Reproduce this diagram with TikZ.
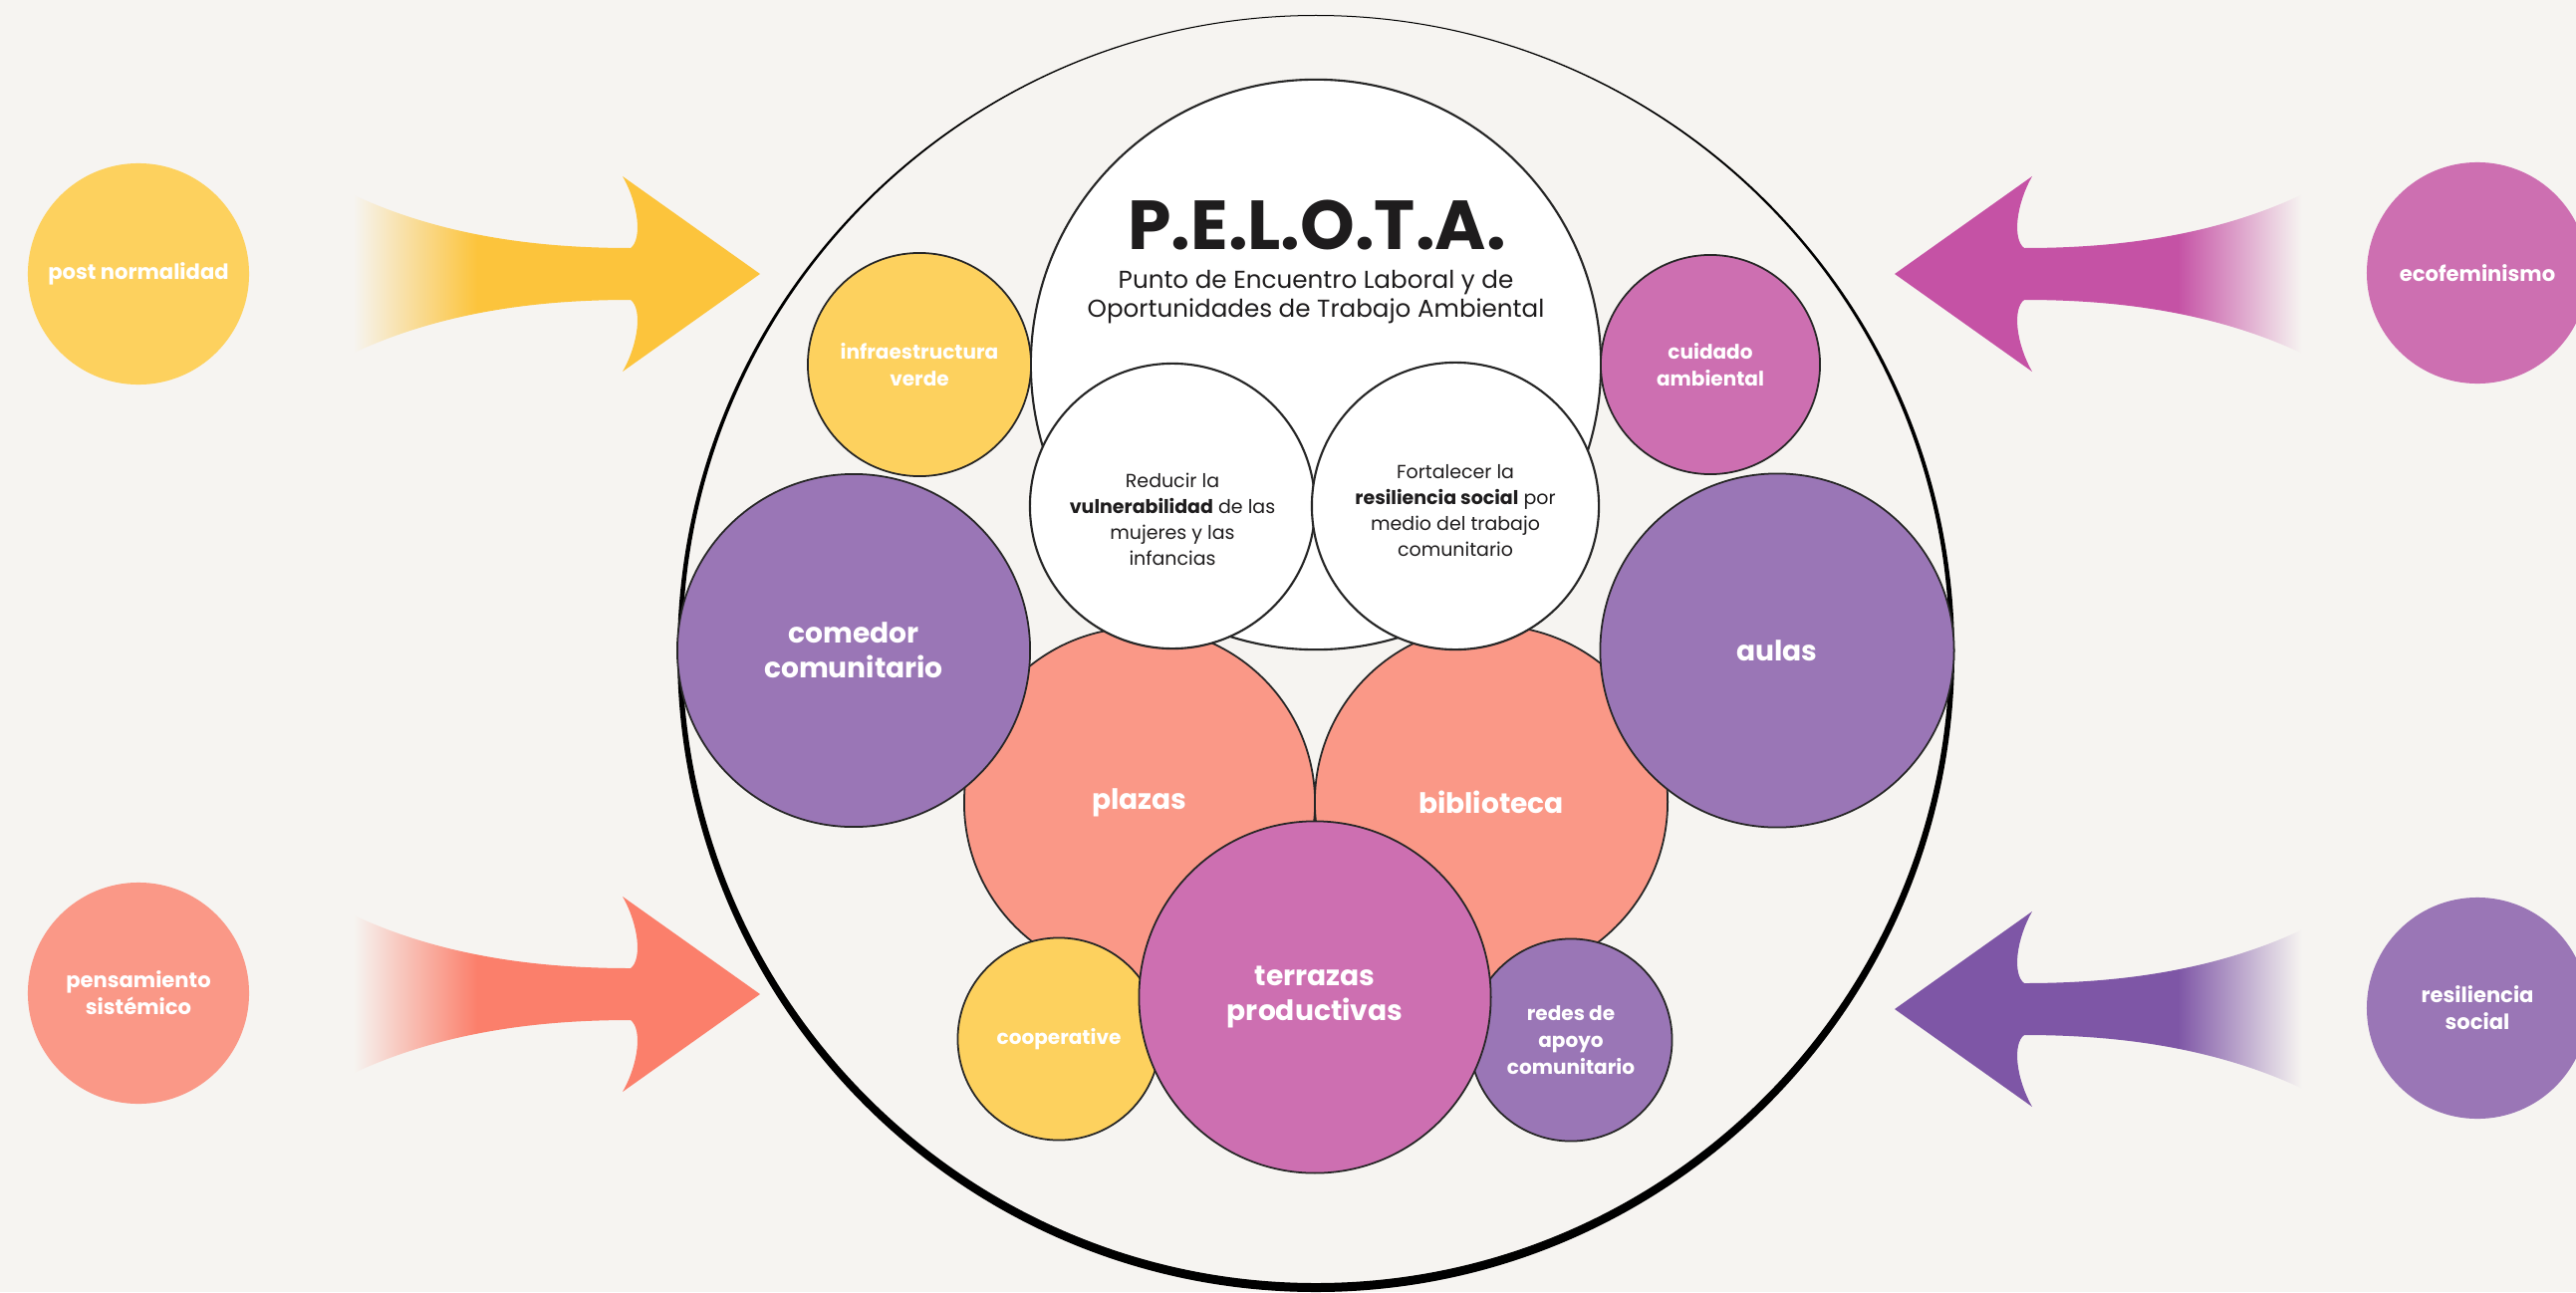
\documentclass[tikz,border=0pt]{standalone}
\usepackage{fontspec}
\setmainfont{Poppins}
\usepackage{tikz}
\usetikzlibrary{positioning}

\definecolor{paper}{HTML}{F6F4F1}
\definecolor{ink}{HTML}{1E1C1D}
\definecolor{sunY}{HTML}{FDD15E}
\definecolor{sunA}{HTML}{FCC43C}
\definecolor{coralC}{HTML}{FA9887}
\definecolor{coralA}{HTML}{FB7F6B}
\definecolor{pinkC}{HTML}{CD6FB1}
\definecolor{pinkA}{HTML}{C552A5}
\definecolor{lilaC}{HTML}{9A76B6}
\definecolor{lilaA}{HTML}{7E56A6}

% tail fades, one per arrow colour
\newcommand{\fadepair}[1]{%
  \pgfdeclarehorizontalshading{#1-east}{100bp}{color(0bp)=(paper); color(27.5bp)=(paper); color(42bp)=(#1); color(100bp)=(#1)}%
  \pgfdeclarehorizontalshading{#1-west}{100bp}{color(0bp)=(#1); color(58bp)=(#1); color(72.5bp)=(paper); color(100bp)=(paper)}}
\fadepair{sunA}
\fadepair{coralA}
\fadepair{pinkA}
\fadepair{lilaA}

% fat arrow: tip, direction, shading
\newcommand{\flowarrow}[3]{%
  \begin{scope}[shift={(#1)}, xscale=#2]
    \shade[shading=#3] (0,0) -- (-138,98) .. controls (-122,70) and (-118,35) .. (-130,26) .. controls (-170,26) and (-210,28.2) .. (-249.4,33.8) .. controls (-308.4,42.2) and (-366,58) .. (-420,85) -- (-430,88) -- (-430,-88) -- (-420,-85) .. controls (-366,-58) and (-308.4,-42.2) .. (-249.4,-33.8) .. controls (-210,-28.2) and (-170,-26) .. (-130,-26) .. controls (-118,-35) and (-122,-70) .. (-138,-98) -- cycle;
  \end{scope}}

\begin{document}
\begin{tikzpicture}[x=0.01cm, y=-0.01cm,
    bubble/.style={circle, draw=black!85, line width=0.5pt, inner sep=0pt, align=center, text=white, font=\bfseries\fontsize{8}{10}\selectfont},
    minor/.style={bubble, font=\bfseries\fontsize{5.7}{7.6}\selectfont},
    goal/.style={circle, draw=black!85, line width=0.6pt, fill=white, inner sep=0pt},
    goaltext/.style={align=center, text=ink, font=\fontsize{5.4}{7.4}\selectfont},
    idea/.style={circle, inner sep=0pt, align=center, text=white, minimum size=2.22cm, font=\bfseries\fontsize{6}{7.7}\selectfont}]
\fill[paper] (0,0) rectangle (2586,1297);
\useasboundingbox (0,0) rectangle (2586,1297);

% outer ideas
\node[idea, fill=sunY] (postnorm) at (139,275) {post normalidad};
\node[idea, fill=coralC] (sistemico) at (139,997) {pensamiento\\sistémico};
\node[idea, fill=pinkC] (ecofem) at (2487,274) {ecofeminismo};
\node[idea, fill=lilaC] (resil) at (2487,1012) {resiliencia\\social};

\coordinate (tipA) at (763,275);
\coordinate (tipB) at (763,998);
\coordinate (tipC) at (1902,275);
\coordinate (tipD) at (1902,1013);
\flowarrow{tipA}{1}{sunA-east}
\flowarrow{tipB}{1}{coralA-east}
\flowarrow{tipC}{-1}{pinkA-west}
\flowarrow{tipD}{-1}{lilaA-west}

% ring
\fill[black, even odd rule] (1321,656) circle[radius=641] (1321,652) circle[radius=636];

% inner bubbles
\node[goal, minimum size=5.72cm] (pelota) at (1321,366) {};
\node[font=\bfseries\fontsize{19.8}{21}\selectfont, text=ink] (title) at (1322,226) {P.E.L.O.T.A.};
\node[align=center, text=ink, font=\fontsize{7}{7.1}\selectfont] (subtitle) at (1321,298) {Punto de Encuentro Laboral y de\\Oportunidades de Trabajo Ambiental};
\node[minor, fill=sunY, minimum size=2.24cm] (infra) at (923,366) {infraestructura\\verde};
\node[minor, fill=pinkC, minimum size=2.2cm] (cuidado) at (1717,366) {cuidado\\ambiental};
\node[bubble, fill=coralC, minimum size=3.52cm] (plazas) at (1144,806) {plazas};
\node[bubble, fill=coralC, minimum size=3.54cm] (biblio) at (1497,805) {biblioteca};
\node[goal, minimum size=2.86cm] (reducir) at (1177,508) {};
\node[goal, minimum size=2.88cm] (fortalecer) at (1461,508) {};
\node[goaltext] (reducirtxt) at (1177,521) {Reducir la\\\textbf{vulnerabilidad} de las\\mujeres y las\\infancias};
\node[goaltext] (fortalecertxt) at (1461,513) {Fortalecer la\\\textbf{resiliencia social} por\\medio del trabajo\\comunitario};
\node[bubble, fill=lilaC, minimum size=3.54cm] (comedor) at (857,653) {comedor\\comunitario};
\node[bubble, fill=lilaC, minimum size=3.55cm] (aulas) at (1784,653) {aulas};
\node[minor, fill=sunY, minimum size=2.03cm] (coop) at (1063,1043) {cooperative};
\node[minor, fill=lilaC, minimum size=2.03cm] (redes) at (1577,1044) {redes de\\apoyo\\comunitario};
\node[bubble, fill=pinkC, minimum size=3.53cm] (terrazas) at (1320,1001) {terrazas\\productivas};
\end{tikzpicture}
\end{document}
